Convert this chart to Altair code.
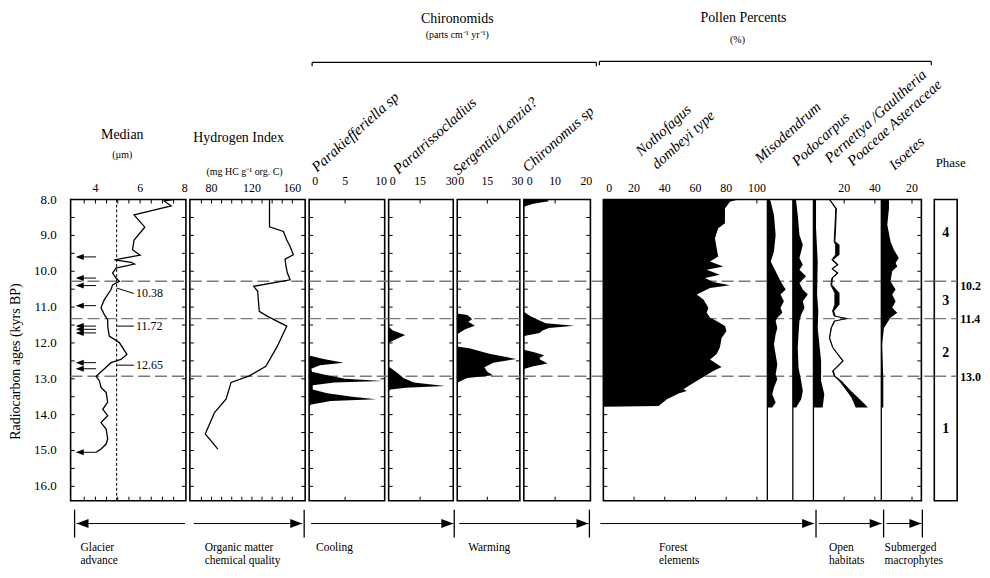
import altair as alt
import pandas as pd

FONT = "Liberation Serif"
H = 303
Y_DOMAIN = [8.0, 16.4]

# ---------------- shared age ticks / phases ----------------
age_labels = [8.0, 9.0, 10.0, 11.0, 12.0, 13.0, 14.0, 15.0, 16.0]
side_ticks = [8.0, 8.5, 9.0, 9.5, 10.0, 10.5, 11.0, 11.5, 12.0, 12.5, 13.0,
              13.5, 14.0, 14.5, 15.0, 15.5, 16.0]
phase_bounds = [10.28, 11.32, 12.93]
phase_bound_labels = ["10.2", "11.4", "13.0"]
phase_bound_label_age = [10.42, 11.33, 12.94]
phase_names = ["4", "3", "2", "1"]
phase_name_age = [8.94, 10.84, 12.27, 14.4]

# ---------------- Median grain size (um) ----------------
median_age = [8.0, 8.04, 8.18, 8.43, 8.77, 9.13, 9.40, 9.55, 9.68, 9.75,
              9.80, 9.91, 10.05, 10.19, 10.28, 10.38, 10.51, 10.79, 11.02, 11.21,
              11.35, 11.53, 11.81, 11.99, 12.32, 12.46, 12.55, 12.93, 13.06, 13.24,
              13.38, 13.65, 13.85, 14.03, 14.22, 14.40, 14.68, 14.82, 14.96, 15.05]
median_val = [7.5, 7.07, 7.39, 5.73, 6.21, 5.73, 5.66, 6.0, 4.85, 5.6,
              5.75, 4.92, 4.77, 4.92, 5.07, 4.77, 4.70, 4.40, 4.25, 4.40,
              4.55, 4.55, 4.62, 5.07, 5.41, 5.14, 4.70, 4.03, 4.18, 4.25,
              4.48, 4.55, 4.33, 4.55, 4.25, 4.48, 4.55, 4.48, 4.25, 4.03]
median_ticks = [4, 6, 8]
median_threshold = 4.95
glacier_arrow_age = [9.60, 10.19, 10.40, 10.96, 11.53, 11.62, 11.72, 12.55, 12.72, 15.05]
crossing_labels = ["10.38", "11.72", "12.65"]
crossing_age = [10.47, 11.53, 12.62]
crossing_label_age = [10.62, 11.53, 12.62]

# ---------------- Hydrogen index ----------------
hi_age = [8.0, 8.76, 8.89, 9.13, 9.31, 9.54, 9.66, 9.87, 10.05, 10.24,
          10.42, 10.56, 10.79, 11.12, 11.26, 11.53, 11.63, 12.09, 12.65, 12.92,
          13.10, 13.56, 13.94, 14.54, 14.96]
hi_val = [137.4, 137.4, 151.2, 154.5, 157.8, 161.0, 152.8, 153.8, 155.1, 157.8,
          121.7, 125.7, 126.3, 127.3, 135.5, 154.5, 152.8, 145.2, 133.8, 117.4,
          99.4, 94.5, 83.0, 73.8, 86.3]
hi_ticks = [80, 120, 160]

# ---------------- Chironomids ----------------
para_age = [12.35, 12.45, 12.55, 12.62, 12.72, 12.80, 12.90, 13.00, 13.06, 13.10,
            13.18, 13.30, 13.40, 13.50, 13.57, 13.62, 13.72, 13.76]
para_val = [0, 2.0, 4.8, 1.5, 0.3, 0.4, 2.5, 5.0, 10.2, 3.5,
            0.5, 0.5, 2.5, 6.0, 9.3, 3.0, 0.3, 0]
parat_age = [11.55, 11.65, 11.78, 11.88, 11.98, 12.00, 12.66, 12.72, 12.85, 12.98,
             13.10, 13.20, 13.25, 13.30, 13.33]
parat_val = [0, 2.0, 7.9, 4.0, 0.5, 0, 0, 1.5, 4.5, 7.0,
             12.0, 26.9, 8.0, 1.0, 0]
serg_age = [11.18, 11.22, 11.28, 11.34, 11.41, 11.52, 11.62, 11.72, 11.76, 12.10,
            12.15, 12.30, 12.45, 12.55, 12.68, 12.80, 12.90, 12.98, 13.08, 13.12]
serg_val = [0, 5.0, 6.5, 7.4, 5.5, 8.8, 4.0, 1.0, 0, 0,
            6.0, 16.0, 29.4, 18.0, 13.5, 15.0, 17.8, 5.0, 1.0, 0]
chiro_age = [8.00, 8.05, 8.12, 8.20, 11.13, 11.25, 11.35, 11.45, 11.52, 11.58,
             11.65, 11.72, 11.80, 11.82, 12.19, 12.25, 12.34, 12.42, 12.46, 12.57,
             12.65, 12.72, 12.74]
chiro_val = [7.5, 8.0, 3.0, 0, 0, 2.0, 4.5, 7.0, 16.2, 8.0,
             6.0, 5.0, 0.5, 0, 0, 3.0, 6.5, 5.0, 5.2, 7.6,
             3.0, 0.3, 0]
para_ticks = [0, 5, 10]
parat_ticks = [0, 15, 30]
serg_ticks = [0, 15, 30]
chiro_ticks = [0, 10, 20]

# ---------------- Pollen percents ----------------
noth_age = [8.0, 8.06, 8.25, 8.66, 8.80, 9.08, 9.36, 9.59, 9.73, 9.87,
            9.96, 10.10, 10.19, 10.30, 10.39, 10.47, 10.65, 10.79, 11.02, 11.16,
            11.30, 11.39, 11.53, 11.67, 11.86, 12.13, 12.31, 12.46, 12.55, 12.67,
            12.78, 12.92, 13.06, 13.20, 13.29, 13.34, 13.41, 13.57, 13.76, 13.78]
noth_val = [87.8, 82.4, 79.2, 79.2, 74.8, 72.7, 73.8, 74.8, 69.5, 78.1,
            67.3, 75.9, 66.2, 71.6, 82.4, 69.5, 60.8, 65.2, 68.4, 67.3,
            69.5, 73.8, 79.2, 80.2, 77.0, 75.9, 73.8, 69.5, 72.7, 77.0,
            71.6, 66.2, 60.8, 55.4, 52.2, 54.3, 49.0, 41.4, 36.0, 0]
miso_age = [8.0, 8.06, 8.43, 8.99, 9.45, 9.73, 10.0, 10.28, 10.51, 10.65,
            10.84, 11.02, 11.16, 11.30, 11.39, 11.58, 11.76, 12.04, 12.32, 12.60,
            12.88, 13.01, 13.24, 13.43, 13.66, 13.80]
miso_val = [1.5, 2.2, 4.3, 5.4, 4.3, 2.2, 5.4, 8.6, 11.9, 8.6,
            10.8, 8.6, 9.7, 6.5, 5.4, 6.5, 5.4, 4.3, 5.4, 6.5,
            5.4, 6.5, 4.3, 3.2, 5.4, 3.2]
podo_age = [8.0, 8.06, 8.43, 8.99, 9.26, 9.63, 9.82, 9.96, 10.14, 10.33,
            10.51, 10.65, 10.84, 11.02, 11.21, 11.39, 11.76, 12.13, 12.69, 13.06,
            13.34, 13.57, 13.80]
podo_val = [2.0, 2.2, 3.2, 4.3, 6.5, 4.3, 6.5, 4.3, 8.6, 4.3,
            6.5, 9.7, 6.5, 7.6, 5.4, 4.3, 3.7, 3.2, 3.7, 5.4,
            6.5, 5.4, 2.2]
pern_age = [8.0, 8.06, 8.80, 9.73, 10.65, 11.11, 11.58, 12.04, 12.50, 13.06, 13.43, 13.80]
pern_val = [1.7, 1.7, 1.7, 2.8, 2.4, 3.2, 2.8, 3.9, 5.0, 5.0, 7.1, 6.0]
poa_age = [8.0, 8.25, 8.80, 9.17, 9.26, 9.54, 9.68, 9.82, 9.93, 10.05,
           10.19, 10.38, 10.61, 10.93, 11.11, 11.25, 11.32, 11.39, 11.58, 11.86,
           12.13, 12.50, 12.78, 12.92, 13.06, 13.34, 13.52, 13.71, 13.80]
poa_val = [10.4, 14.5, 14.0, 13.5, 14.5, 14.5, 12.0, 15.5, 12.0, 15.5,
           12.0, 11.4, 14.0, 14.0, 12.5, 13.5, 21.8, 13.5, 11.5, 10.4,
           12.5, 19.0, 12.5, 13.5, 17.0, 22.0, 25.0, 27.0, 27.8]
aster_val = [0.5, 0.8, 0.8, 0.8, 2.5, 2.5, 1.0, 1.0, 0.8, 1.0,
             0.8, 0.8, 3.0, 3.0, 1.0, 1.0, 1.0, 0.8, 0.5, 0.5,
             0.5, 0.8, 0.8, 0.8, 1.5, 2.5, 4.0, 6.5, 7.6]
iso_age = [8.0, 8.25, 8.70, 9.17, 9.40, 9.63, 9.77, 9.87, 10.0, 10.28,
           10.51, 10.65, 10.84, 11.02, 11.16, 11.30, 11.44, 11.58, 12.04, 12.97, 13.80]
iso_val = [5.0, 5.0, 3.9, 6.0, 8.2, 11.4, 9.3, 10.4, 7.1, 6.0,
           9.3, 7.1, 9.3, 7.1, 10.4, 6.0, 3.9, 1.7, 0.6, 1.3, 1.3]
noth_ticks = [0, 20, 40, 60, 80, 100]
pern_ticks = [20, 40]
iso_ticks = [20]

# baselines of the pollen curves on the common % axis
MISO_B, PODO_B, PERN_B, ISO_B = 106.8, 123.4, 136.8, 181.0


# ---------------- helpers ----------------
def ys():
    return alt.Scale(domain=Y_DOMAIN, reverse=True, nice=False, zero=False)


def Y(field="age"):
    return alt.Y(f"{field}:Q", scale=ys(), axis=None)


def one():
    return pd.DataFrame({"k": [0]})


def label(text, x, y, size=12, align="center", baseline="middle", angle=None,
          style=None, weight=None, lh=None):
    kw = dict(text=text, font=FONT, fontSize=size, align=align,
              baseline=baseline, color="black")
    if angle is not None:
        kw["angle"] = angle
    if style:
        kw["fontStyle"] = style
    if weight:
        kw["fontWeight"] = weight
    if lh:
        kw["lineHeight"] = lh
    return alt.Chart(one()).mark_text(**kw).encode(x=alt.value(x), y=alt.value(y))


def seg(x1, x2, y1, y2, width=1.0):
    return alt.Chart(one()).mark_rule(color="black", strokeWidth=width).encode(
        x=alt.value(x1), x2=alt.value(x2), y=alt.value(y1), y2=alt.value(y2))


RIGHT = "M-1,-0.75L1,0L-1,0.75Z"
LEFT = "M1,-0.75L-1,0L1,0.75Z"


def head(x_tip, y, direction, r=6):
    shape = RIGHT if direction == "right" else LEFT
    cx = x_tip - r if direction == "right" else x_tip + r
    return alt.Chart(one()).mark_point(shape=shape, filled=True, color="black",
                                       size=(2 * r) ** 2, opacity=1,
                                       strokeWidth=0).encode(
        x=alt.value(cx), y=alt.value(y))


AY = H + 23       # arrow line
BY1, BY2 = H + 9, H + 37   # end bars
CY = H + 48       # caption first line


def bar(x):
    return seg(x, x, BY1, BY2, 1.3)


def arrow(x1, x2, direction):
    tip = x1 if direction == "left" else x2
    return [seg(x1, x2, AY, AY, 1.0), head(tip, AY, direction)]


def caption(lines, x):
    return label(lines, x, CY, size=11.5, align="left", lh=12.5)


def dash(ext):
    return alt.Chart(pd.DataFrame({"age": phase_bounds})).mark_rule(
        color="#7a7a7a", strokeWidth=1.4, strokeDash=[12, 5]).encode(
        y=Y(), x=alt.value(0), x2=alt.value(ext))


def frame_ticks(w, xscale, tick_vals, side=True):
    out = []
    if side:
        sd = alt.Chart(pd.DataFrame({"age": side_ticks}))
        out.append(sd.mark_rule(color="black", strokeWidth=1).encode(
            y=Y(), x=alt.value(0), x2=alt.value(4)))
        out.append(sd.mark_rule(color="black", strokeWidth=1).encode(
            y=Y(), x=alt.value(w - 4), x2=alt.value(w)))
    if tick_vals:
        td = alt.Chart(pd.DataFrame({"t": tick_vals}))
        out.append(td.mark_rule(color="black", strokeWidth=1).encode(
            x=alt.X("t:Q", scale=xscale, axis=None), y=alt.value(0), y2=alt.value(4)))
        out.append(td.mark_rule(color="black", strokeWidth=1).encode(
            x=alt.X("t:Q", scale=xscale, axis=None), y=alt.value(H - 4), y2=alt.value(H)))
    return out


def tick_text(vals, xscale, y, offset=0.0, first_dx=0):
    """Top scale labels placed through the panel's x scale."""
    df = pd.DataFrame({"t": [v + offset for v in vals],
                       "lab": [str(v) for v in vals]})
    out = []
    first = df.iloc[:1]
    rest = df.iloc[1:]
    out.append(alt.Chart(first).mark_text(font=FONT, fontSize=12, color="black",
                                          baseline="middle", dx=first_dx).encode(
        x=alt.X("t:Q", scale=xscale, axis=None), y=alt.value(y), text="lab:N"))
    if len(rest):
        out.append(alt.Chart(rest).mark_text(font=FONT, fontSize=12, color="black",
                                             baseline="middle").encode(
            x=alt.X("t:Q", scale=xscale, axis=None), y=alt.value(y), text="lab:N"))
    return out


def profile(ages, vals, xscale):
    df = pd.DataFrame({"age": ages, "v": vals})
    return alt.Chart(df).mark_area(orient="horizontal", color="black",
                                   opacity=1).encode(
        y=Y(), x=alt.X("v:Q", scale=xscale, axis=None, stack=None))


ROT = 318
TSIZE = 15

# ---------------- Panel 1: Median ----------------
W1 = 116
xs_med = alt.Scale(domain=[2.89, 8.05], nice=False, zero=False)
med_df = pd.DataFrame({"age": median_age, "v": median_val})
med_line = alt.Chart(med_df).mark_line(color="black", strokeWidth=1.3).encode(
    x=alt.X("v:Q", scale=xs_med, axis=None), y=Y(), order=alt.Order("age:Q"))
med_thr = alt.Chart(pd.DataFrame({"m": [median_threshold]})).mark_rule(
    color="black", strokeWidth=1, strokeDash=[3, 2]).encode(
    x=alt.X("m:Q", scale=xs_med, axis=None), y=alt.value(0), y2=alt.value(H))
arr_df = pd.DataFrame({"age": glacier_arrow_age})
arr_df["x1"] = 3.2
arr_df["x2"] = 4.03
arr_df["xh"] = 3.3
med_arrows = alt.Chart(arr_df).mark_rule(color="black", strokeWidth=1).encode(
    x=alt.X("x1:Q", scale=xs_med, axis=None), x2="x2:Q", y=Y())
med_heads = alt.Chart(arr_df).mark_point(shape=LEFT, filled=True, color="black",
                                         size=64, opacity=1, strokeWidth=0).encode(
    x=alt.X("xh:Q", scale=xs_med, axis=None), y=Y())
lead_df = pd.DataFrame({"age": crossing_age, "age2": crossing_label_age,
                        "lab": crossing_labels})
lead_df["x1"] = median_threshold
lead_df["x2"] = 5.72
lead_df["xt"] = 5.82
med_lead = alt.Chart(lead_df).mark_rule(color="black", strokeWidth=1).encode(
    x=alt.X("x1:Q", scale=xs_med, axis=None), x2="x2:Q", y=Y(), y2="age2:Q")
med_lab = alt.Chart(lead_df).mark_text(font=FONT, fontSize=12, align="left",
                                       baseline="middle", color="black").encode(
    x=alt.X("xt:Q", scale=xs_med, axis=None), y=Y("age2"), text="lab:N")
ylab_df = pd.DataFrame({"age": age_labels})
ylab_df["lab"] = [f"{v:.1f}" for v in age_labels]
y_labels = alt.Chart(ylab_df).mark_text(font=FONT, fontSize=13, align="right",
                                        baseline="middle", color="black").encode(
    x=alt.value(-14), y=Y(), text="lab:N")
p1 = alt.layer(
    dash(W1 + 4), med_thr, med_line, med_arrows, med_heads, med_lead, med_lab,
    *frame_ticks(W1, xs_med, [3.5, 4.0, 4.5, 5.0, 5.5, 6.0, 6.5, 7.0, 7.5]),
    *tick_text(median_ticks, xs_med, -12),
    y_labels,
    label("Radiocarbon ages (kyrs BP)", -55, 163, size=14, angle=270),
    label("Median", 52, -65, size=14),
    label("(µm)", 52, -45, size=10),
    bar(4), *arrow(6, 115, "left"),
    caption(["Glacier", "advance"], 10),
).properties(width=W1, height=H)

# ---------------- Panel 2: Hydrogen index ----------------
W2 = 116
xs_hi = alt.Scale(domain=[58.6, 172.7], nice=False, zero=False)
hi_df = pd.DataFrame({"age": hi_age, "v": hi_val})
hi_line = alt.Chart(hi_df).mark_line(color="black", strokeWidth=1.3).encode(
    x=alt.X("v:Q", scale=xs_hi, axis=None), y=Y(), order=alt.Order("age:Q"))
p2 = alt.layer(
    dash(W2 + 4), hi_line,
    *frame_ticks(W2, xs_hi, [70, 80, 90, 100, 110, 120, 130, 140, 150, 160]),
    *tick_text(hi_ticks, xs_hi, -12),
    label("Hydrogen Index", 49, -62, size=14),
    label("(mg HC g⁻¹ org. C)", 55, -28, size=10),
    *arrow(4, 113, "right"), bar(115),
    caption(["Organic matter", "chemical quality"], 15),
).properties(width=W2, height=H)

# ---------------- Panels 3-6: Chironomids ----------------
W3, W4, W5, W6 = 76, 65, 63, 67
xs_para = alt.Scale(domain=[0, 10.5], nice=False, zero=False)
xs_parat = alt.Scale(domain=[0, 30.8], nice=False, zero=False)
xs_serg = alt.Scale(domain=[0, 31.2], nice=False, zero=False)
xs_chiro = alt.Scale(domain=[0, 21.3], nice=False, zero=False)
CHY = -19

p3 = alt.layer(
    dash(W3 + 4),
    profile(para_age, para_val, xs_para),
    *frame_ticks(W3, xs_para, [5]),
    *tick_text(para_ticks, xs_para, CHY, first_dx=6),
    label("Parakiefferiella sp", 8, -27, size=TSIZE, align="left",
          baseline="alphabetic", angle=ROT, style="italic"),
    label("Chironomids", 149, -182, size=14),
    label("(parts cm⁻¹ yr⁻¹)", 149, -166, size=10),
    seg(3, 289, -138, -138, 1.2), seg(3, 3, -138, -134, 1.2),
    seg(289, 289, -138, -134, 1.2),
    *arrow(2, 145, "right"), bar(146),
    caption(["Cooling"], 7),
).properties(width=W3, height=H)

p4 = alt.layer(
    dash(W4 + 4),
    profile(parat_age, parat_val, xs_parat),
    *frame_ticks(W4, xs_parat, [15]),
    *tick_text(parat_ticks, xs_parat, CHY, first_dx=4),
    label("Paratrissocladius", 10, -25, size=TSIZE, align="left",
          baseline="alphabetic", angle=ROT, style="italic"),
).properties(width=W4, height=H)

p5 = alt.layer(
    dash(W5 + 4),
    profile(serg_age, serg_val, xs_serg),
    *frame_ticks(W5, xs_serg, [15]),
    *tick_text(serg_ticks, xs_serg, CHY, first_dx=4),
    label("Sergentia/Lenzia?", 1, -24, size=TSIZE, align="left",
          baseline="alphabetic", angle=ROT, style="italic"),
    *arrow(2, 132, "right"), bar(133),
    caption(["Warming"], 11),
).properties(width=W5, height=H)

p6 = alt.layer(
    dash(W6 + 13),
    profile(chiro_age, chiro_val, xs_chiro),
    *frame_ticks(W6, xs_chiro, [10]),
    *tick_text(chiro_ticks, xs_chiro, CHY, first_dx=6),
    label("Chironomus sp", 4, -27, size=TSIZE, align="left",
          baseline="alphabetic", angle=ROT, style="italic"),
).properties(width=W6, height=H)

# ---------------- Panel 7: Pollen ----------------
W7 = 320
xs_pol = alt.Scale(domain=[0, 207.1], nice=False, zero=False)
noth = profile(noth_age, noth_val, xs_pol)


def offset_area(ages, vals, base):
    df = pd.DataFrame({"age": ages, "v": vals})
    df["xv"] = df["v"] + base
    df["xb"] = base
    return alt.Chart(df).mark_area(orient="horizontal", color="black",
                                   opacity=1).encode(
        y=Y(), x=alt.X("xv:Q", scale=xs_pol, axis=None, stack=None), x2="xb:Q")


poa_df = pd.DataFrame({"age": poa_age, "p": poa_val, "a": aster_val})
poa_df["xp"] = poa_df["p"] + PERN_B
poa_df["xa"] = poa_df["p"] + poa_df["a"] + PERN_B
poa_line = alt.Chart(poa_df).mark_line(color="black", strokeWidth=1).encode(
    x=alt.X("xp:Q", scale=xs_pol, axis=None), y=Y(), order=alt.Order("age:Q"))
aster_area = alt.Chart(poa_df).mark_area(orient="horizontal", color="black",
                                         opacity=1).encode(
    y=Y(), x=alt.X("xa:Q", scale=xs_pol, axis=None, stack=None), x2="xp:Q")
bases = alt.Chart(pd.DataFrame({"b": [MISO_B, PODO_B, PERN_B, ISO_B]})).mark_rule(
    color="black", strokeWidth=1.3).encode(
    x=alt.X("b:Q", scale=xs_pol, axis=None), y=alt.value(0), y2=alt.value(H))

PY = -12
p7 = alt.layer(
    dash(W7 + 13), noth,
    offset_area(miso_age, miso_val, MISO_B),
    offset_area(podo_age, podo_val, PODO_B),
    offset_area(pern_age, pern_val, PERN_B),
    offset_area(iso_age, iso_val, ISO_B),
    aster_area, poa_line, bases,
    *frame_ticks(W7, xs_pol, [20, 40, 60, 80, 100, PERN_B + 20, PERN_B + 40, ISO_B + 20]),
    *tick_text(noth_ticks, xs_pol, PY, first_dx=6),
    *tick_text(pern_ticks, xs_pol, PY, offset=PERN_B),
    *tick_text(iso_ticks, xs_pol, PY, offset=ISO_B),
    label("Pollen  Percents", 141, -183, size=14),
    label("(%)", 135, -161, size=10),
    seg(-4, 330, -139, -139, 1.2), seg(-4, -4, -139, -135, 1.2),
    seg(330, 330, -139, -135, 1.2),
    label("Nothofagus", 38, -43, size=TSIZE, align="left", baseline="alphabetic",
          angle=ROT, style="italic"),
    label("dombeyi type", 54, -30, size=TSIZE, align="left", baseline="alphabetic",
          angle=ROT, style="italic"),
    label("Misodendrum", 158, -36, size=TSIZE, align="left", baseline="alphabetic",
          angle=ROT, style="italic"),
    label("Podocarpus", 195, -33, size=TSIZE, align="left", baseline="alphabetic",
          angle=ROT, style="italic"),
    label("Pernettya /Gaultheria", 228, -36, size=TSIZE, align="left",
          baseline="alphabetic", angle=ROT, style="italic"),
    label("Poaceae Asteraceae", 251, -33, size=TSIZE, align="left",
          baseline="alphabetic", angle=ROT, style="italic"),
    label("Isoetes", 293, -29, size=TSIZE, align="left", baseline="alphabetic",
          angle=ROT, style="italic"),
    *arrow(-3, 212, "right"), bar(214),
    *arrow(217, 280, "right"), bar(282),
    *arrow(285, 320, "right"), bar(321),
    caption(["Forest", "elements"], 56),
    caption(["Open", "habitats"], 227),
    caption(["Submerged", "macrophytes"], 283),
).properties(width=W7, height=H)

# ---------------- Panel 8: Phase ----------------
W8 = 23
ph_df = pd.DataFrame({"age": phase_name_age, "n": phase_names})
pb_df = pd.DataFrame({"age": phase_bound_label_age, "n": phase_bound_labels})
ph_names = alt.Chart(ph_df).mark_text(font=FONT, fontSize=14, fontWeight="bold",
                                      color="black").encode(
    x=alt.value(W8 / 2), y=Y(), text="n:N")
ph_bounds = alt.Chart(pb_df).mark_text(font=FONT, fontSize=12, fontWeight="bold",
                                       align="left", color="black").encode(
    x=alt.value(W8 + 3), y=Y(), text="n:N")
p8 = alt.layer(
    dash(W8), ph_names, ph_bounds,
    label("Phase", 16.5, -37, size=13),
).properties(width=W8, height=H)


def spacer():
    return alt.Chart(one()).mark_point(opacity=0).encode(
        x=alt.value(0), y=alt.value(0)).properties(
        width=5, height=H, view=alt.ViewBackground(stroke="transparent"))


chart = alt.hconcat(p1, p2, p3, p4, p5, p6, spacer(), p7, spacer(), p8,
                    spacing=4, bounds="flush").properties(
    padding=0, background="white").configure(
    font=FONT, view=alt.ViewConfig(stroke="black", strokeWidth=1.6))

chart.save("out.html", embed_options={"renderer": "svg", "actions": False})
